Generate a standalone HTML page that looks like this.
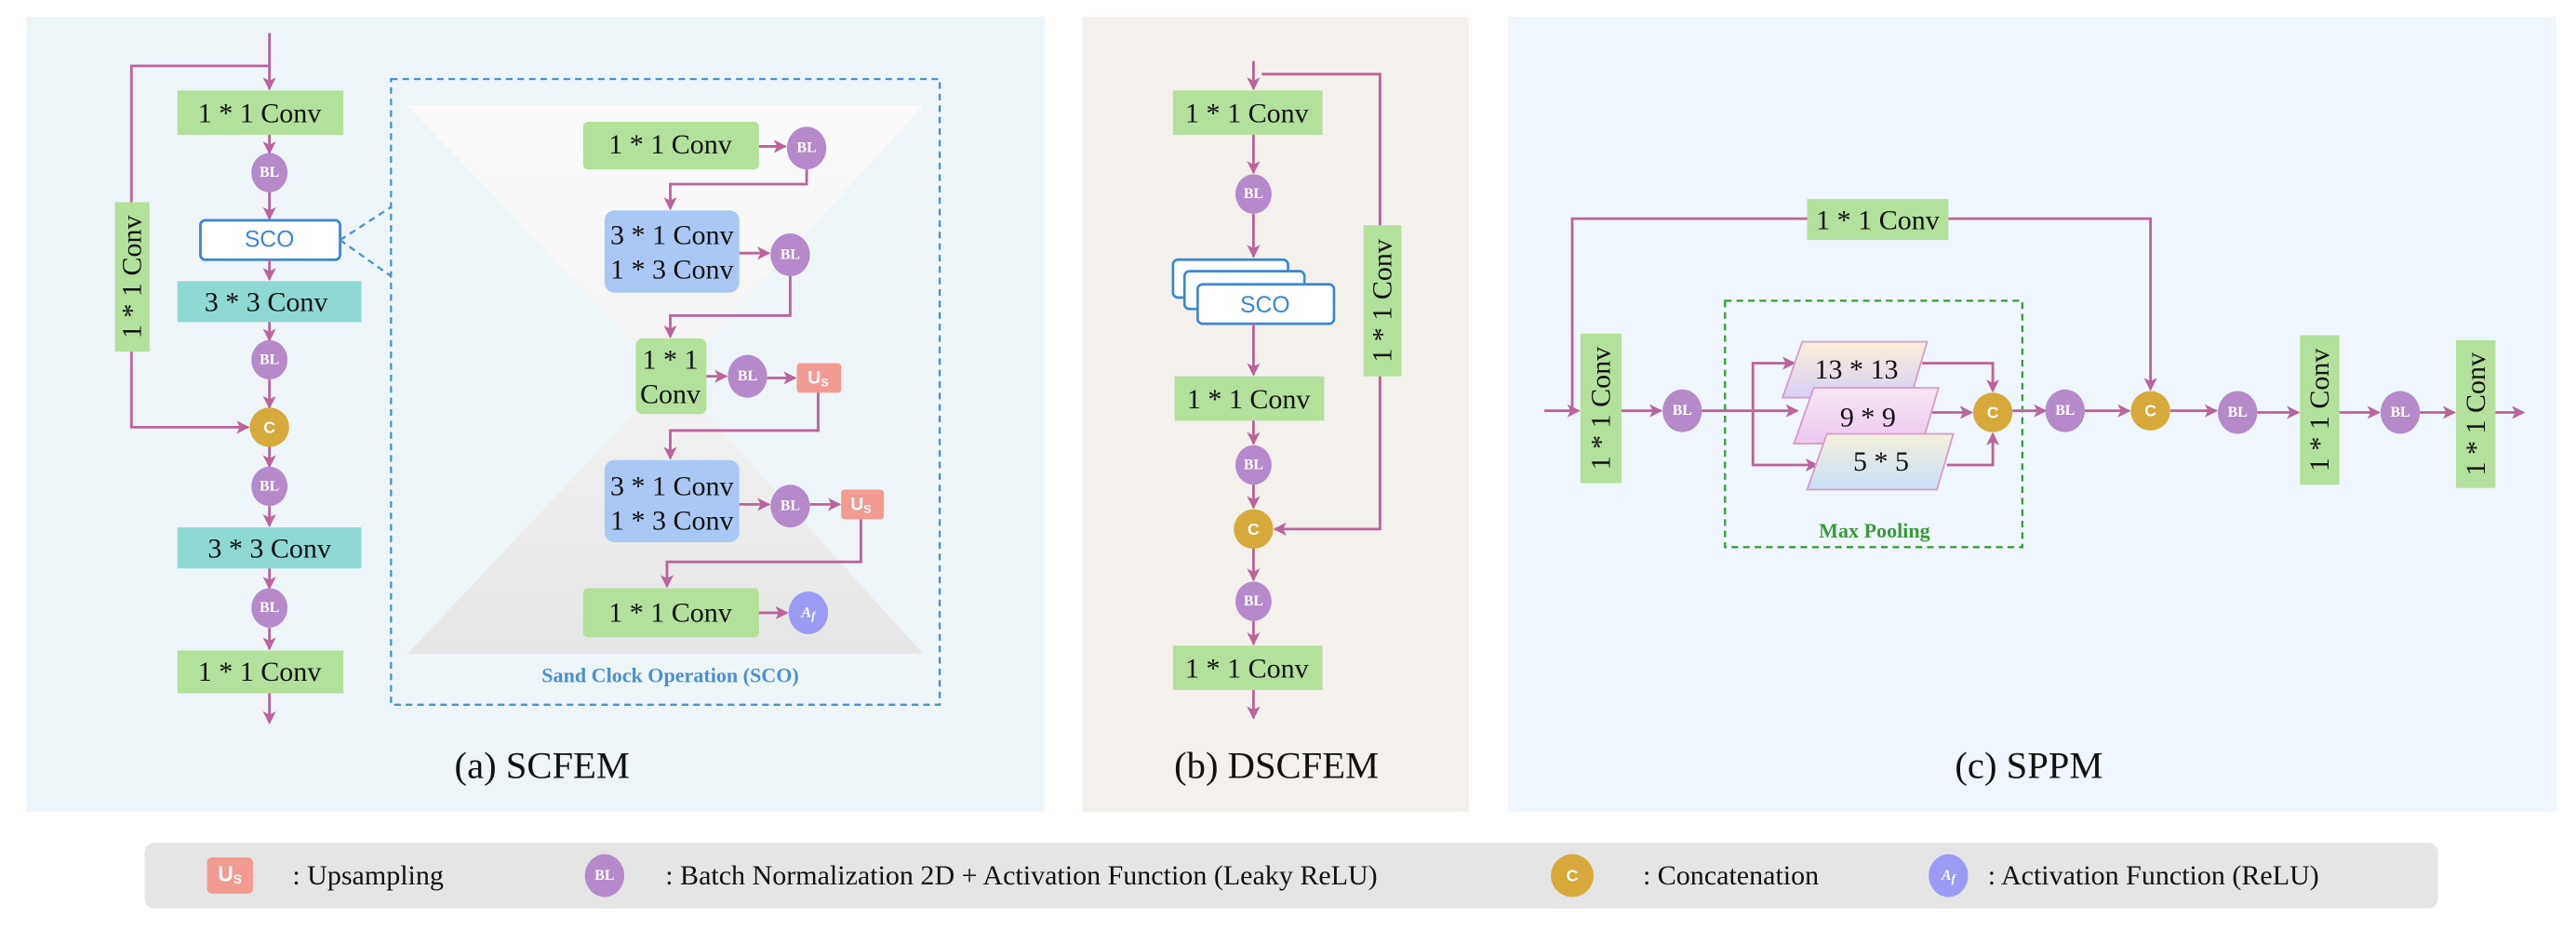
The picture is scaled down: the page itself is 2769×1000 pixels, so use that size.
<!DOCTYPE html>
<html><head><meta charset="utf-8"><style>
html,body{margin:0;padding:0;background:#fff;width:2769px;height:1000px;overflow:hidden}
svg{display:block}
.t{font-family:"Liberation Serif",serif;font-size:17px;fill:#111;text-anchor:middle;dominant-baseline:central}
.c{font-family:"Liberation Sans",sans-serif;font-weight:bold;fill:#fff;text-anchor:middle;dominant-baseline:central}
.bl{font-family:"Liberation Serif",serif;font-weight:bold;font-size:9px;fill:#fff;text-anchor:middle;dominant-baseline:central}
.ln{stroke:#b9649b;stroke-width:1.6;fill:none}
.cap{font-family:"Liberation Serif",serif;font-size:23px;fill:#111;text-anchor:middle;dominant-baseline:central}
.lg{font-family:"Liberation Serif",serif;font-size:17px;fill:#111;dominant-baseline:central}
</style></head><body>
<svg width="2769" height="1000" viewBox="0 0 1568 566" xmlns="http://www.w3.org/2000/svg">
<defs>
<marker id="a" markerWidth="8" markerHeight="8" refX="7" refY="4" orient="auto" markerUnits="userSpaceOnUse"><path d="M0,0 L8,4 L0,8 L2,4 z" fill="#b9649b"/></marker>
<linearGradient id="hg" x1="0" y1="0" x2="0" y2="1"><stop offset="0" stop-color="#fbfbfb"/><stop offset="0.5" stop-color="#f2f2f2"/><stop offset="1" stop-color="#e6e6e6"/></linearGradient>
<linearGradient id="p1" x1="0" y1="0" x2="0" y2="1"><stop offset="0" stop-color="#fbefd9"/><stop offset="1" stop-color="#d8d0f5"/></linearGradient>
<linearGradient id="p2" x1="0" y1="0" x2="0" y2="1"><stop offset="0" stop-color="#f6e7f2"/><stop offset="1" stop-color="#ecc8f2"/></linearGradient>
<linearGradient id="p3" x1="0" y1="0" x2="0" y2="1"><stop offset="0" stop-color="#f5f0dc"/><stop offset="1" stop-color="#c8e0f7"/></linearGradient>
</defs>
<rect x="16" y="10" width="620" height="484" fill="#eef5f9"/>
<rect x="659" y="10" width="235" height="484" fill="#f4f0ec"/>
<rect x="918" y="10" width="638" height="484" fill="#eff6fd"/>
<rect x="88" y="513" width="1396" height="40" rx="6" fill="#e5e5e5"/>

<!-- Panel a -->
<path class="ln" d="M164,20 V54" marker-end="url(#a)"/>
<path class="ln" d="M164,40 H80 V260 H151" marker-end="url(#a)"/>
<rect x="70" y="123" width="21" height="91" fill="#b3e09a"/>
<text class="t" transform="translate(80.5,168.5) rotate(-90)">1 * 1 Conv</text>
<rect x="108" y="55" width="101" height="27" fill="#b3e09a"/><text class="t" x="158" y="69">1 * 1 Conv</text>
<path class="ln" d="M164,82 V93" marker-end="url(#a)"/>
<ellipse cx="164" cy="105" rx="11" ry="12" fill="#b48acb"/><text class="bl" x="164" y="105">BL</text>
<path class="ln" d="M164,117 V133" marker-end="url(#a)"/>
<rect x="122" y="134" width="85" height="24" rx="3" fill="#fff" stroke="#3b86d4" stroke-width="1.6"/>
<text class="c" x="164" y="146" style="fill:#3b86d4;font-weight:normal;font-size:14px">SCO</text>
<path class="ln" d="M164,158 V170" marker-end="url(#a)"/>
<rect x="108" y="171" width="112" height="25" fill="#8fd9d4"/><text class="t" x="162" y="184">3 * 3 Conv</text>
<path class="ln" d="M164,196 V207" marker-end="url(#a)"/>
<ellipse cx="164" cy="219" rx="11" ry="12" fill="#b48acb"/><text class="bl" x="164" y="219">BL</text>
<path class="ln" d="M164,231 V248" marker-end="url(#a)"/>
<circle cx="164" cy="260" r="12" fill="#d6a93a"/><text class="c" x="164" y="260" font-size="10">C</text>
<path class="ln" d="M164,272 V284" marker-end="url(#a)"/>
<ellipse cx="164" cy="296" rx="11" ry="12" fill="#b48acb"/><text class="bl" x="164" y="296">BL</text>
<path class="ln" d="M164,308 V320" marker-end="url(#a)"/>
<rect x="108" y="321" width="112" height="25" fill="#8fd9d4"/><text class="t" x="164" y="334">3 * 3 Conv</text>
<path class="ln" d="M164,346 V358" marker-end="url(#a)"/>
<ellipse cx="164" cy="370" rx="11" ry="12" fill="#b48acb"/><text class="bl" x="164" y="370">BL</text>
<path class="ln" d="M164,382 V395" marker-end="url(#a)"/>
<rect x="108" y="396" width="101" height="26" fill="#b3e09a"/><text class="t" x="158" y="409">1 * 1 Conv</text>
<path class="ln" d="M164,422 V440" marker-end="url(#a)"/>

<path d="M207,146 L238,126 M207,146 L238,168" stroke="#4a90d0" stroke-width="1.3" stroke-dasharray="4,3" fill="none"/>
<rect x="238" y="48" width="334" height="381" fill="none" stroke="#4a90d0" stroke-width="1.3" stroke-dasharray="4,3"/>
<path d="M248,64 H562 L410,230 L562,398 H248 L406,230 Z" fill="url(#hg)"/>
<rect x="355" y="74" width="107" height="29" rx="3" fill="#b3e09a"/><text class="t" x="408" y="88">1 * 1 Conv</text>
<path class="ln" d="M462,89 H478" marker-end="url(#a)"/>
<ellipse cx="491" cy="90" rx="12" ry="13" fill="#b48acb"/><text class="bl" x="491" y="90">BL</text>
<path class="ln" d="M491,103 V112 H408 V127" marker-end="url(#a)"/>
<rect x="368" y="128" width="82" height="50" rx="6" fill="#a9c8f5"/>
<text class="t" x="409" y="143">3 * 1 Conv</text><text class="t" x="409" y="164">1 * 3 Conv</text>
<path class="ln" d="M450,154 H468" marker-end="url(#a)"/>
<ellipse cx="481" cy="155" rx="12" ry="13" fill="#b48acb"/><text class="bl" x="481" y="155">BL</text>
<path class="ln" d="M481,168 V192 H408 V205" marker-end="url(#a)"/>
<rect x="387" y="206" width="43" height="46" rx="4" fill="#b3e09a"/>
<text class="t" x="408" y="219">1 * 1</text><text class="t" x="408" y="240">Conv</text>
<path class="ln" d="M430,229 H442" marker-end="url(#a)"/>
<ellipse cx="455" cy="229" rx="12" ry="13" fill="#b48acb"/><text class="bl" x="455" y="229">BL</text>
<path class="ln" d="M467,230 H484" marker-end="url(#a)"/>
<rect x="485" y="221" width="27" height="18" rx="2" fill="#f29b91"/><text class="c" x="498" y="230" font-size="11">U<tspan font-size="7" dy="3">S</tspan></text>
<path class="ln" d="M498,239 V262 H408 V279" marker-end="url(#a)"/>
<rect x="368" y="280" width="82" height="50" rx="6" fill="#a9c8f5"/>
<text class="t" x="409" y="296">3 * 1 Conv</text><text class="t" x="409" y="317">1 * 3 Conv</text>
<path class="ln" d="M450,307 H468" marker-end="url(#a)"/>
<ellipse cx="481" cy="308" rx="12" ry="13" fill="#b48acb"/><text class="bl" x="481" y="308">BL</text>
<path class="ln" d="M493,307 H511" marker-end="url(#a)"/>
<rect x="512" y="298" width="26" height="18" rx="2" fill="#f29b91"/><text class="c" x="524" y="307" font-size="11">U<tspan font-size="7" dy="3">S</tspan></text>
<path class="ln" d="M524,316 V342 H406 V357" marker-end="url(#a)"/>
<rect x="355" y="358" width="107" height="30" rx="3" fill="#b3e09a"/><text class="t" x="408" y="373">1 * 1 Conv</text>
<path class="ln" d="M462,373 H479" marker-end="url(#a)"/>
<ellipse cx="492" cy="373" rx="12" ry="13" fill="#9b9bf5"/><text class="bl" x="492" y="373" font-style="italic">A<tspan font-size="7" dy="2">f</tspan></text>
<text x="408" y="411" text-anchor="middle" dominant-baseline="central" font-family="Liberation Serif,serif" font-weight="bold" font-size="12.5" fill="#4a90d0">Sand Clock Operation (SCO)</text>
<text class="cap" x="330" y="466">(a) SCFEM</text>

<!-- Panel b -->
<path class="ln" d="M763,37 V54" marker-end="url(#a)"/>
<path class="ln" d="M768,45 H840 V322 H776" marker-end="url(#a)"/>
<rect x="830" y="137" width="23" height="92" fill="#b3e09a"/>
<text class="t" transform="translate(841.5,183) rotate(-90)">1 * 1 Conv</text>
<rect x="714" y="55" width="91" height="27" fill="#b3e09a"/><text class="t" x="759" y="69">1 * 1 Conv</text>
<path class="ln" d="M763,82 V105" marker-end="url(#a)"/>
<ellipse cx="763" cy="118" rx="11" ry="12" fill="#b48acb"/><text class="bl" x="763" y="118">BL</text>
<path class="ln" d="M763,130 V156" marker-end="url(#a)"/>
<rect x="714" y="158" width="70" height="23" rx="3" fill="#fff" stroke="#3b86d4" stroke-width="1.5"/>
<rect x="721" y="165" width="73" height="23" rx="3" fill="#fff" stroke="#3b86d4" stroke-width="1.5"/>
<rect x="729" y="173" width="83" height="24" rx="3" fill="#fff" stroke="#3b86d4" stroke-width="1.5"/>
<text class="c" x="770" y="186" style="fill:#3b86d4;font-weight:normal;font-size:14px">SCO</text>
<path class="ln" d="M763,197 V228" marker-end="url(#a)"/>
<rect x="715" y="229" width="91" height="27" fill="#b3e09a"/><text class="t" x="760" y="243">1 * 1 Conv</text>
<path class="ln" d="M763,256 V270" marker-end="url(#a)"/>
<ellipse cx="763" cy="283" rx="11" ry="12" fill="#b48acb"/><text class="bl" x="763" y="283">BL</text>
<path class="ln" d="M763,295 V309" marker-end="url(#a)"/>
<circle cx="763" cy="322" r="12" fill="#d6a93a"/><text class="c" x="763" y="322" font-size="10">C</text>
<path class="ln" d="M763,334 V353" marker-end="url(#a)"/>
<ellipse cx="763" cy="366" rx="11" ry="12" fill="#b48acb"/><text class="bl" x="763" y="366">BL</text>
<path class="ln" d="M763,378 V392" marker-end="url(#a)"/>
<rect x="714" y="393" width="91" height="27" fill="#b3e09a"/><text class="t" x="759" y="407">1 * 1 Conv</text>
<path class="ln" d="M763,420 V437" marker-end="url(#a)"/>
<text class="cap" x="777" y="466">(b) DSCFEM</text>

<!-- Panel c -->
<path class="ln" d="M940,250 H961" marker-end="url(#a)"/>
<path class="ln" d="M957,250 V133 H1309 V237" marker-end="url(#a)"/>
<rect x="1100" y="121" width="86" height="25" fill="#b3e09a"/><text class="t" x="1143" y="134">1 * 1 Conv</text>
<rect x="962" y="203" width="25" height="91" fill="#b3e09a"/>
<text class="t" transform="translate(974.5,248.5) rotate(-90)">1 * 1 Conv</text>
<path class="ln" d="M987,250 H1011" marker-end="url(#a)"/>
<ellipse cx="1024" cy="250" rx="12" ry="13" fill="#b48acb"/><text class="bl" x="1024" y="250">BL</text>
<rect x="1050" y="183" width="181" height="150" fill="none" stroke="#3a9a3a" stroke-width="1.3" stroke-dasharray="4,3"/>
<path class="ln" d="M1036,250 H1094" marker-end="url(#a)"/>
<path class="ln" d="M1067,250 V221 H1092" marker-end="url(#a)"/>
<path class="ln" d="M1067,250 V283 H1106" marker-end="url(#a)"/>
<polygon points="1097,208 1173,208 1163,242 1085,242" fill="url(#p1)" stroke="#d79ac8" stroke-width="1"/>
<text class="t" x="1130" y="225">13 * 13</text>
<polygon points="1104,236 1180,236 1170,270 1092,270" fill="url(#p2)" stroke="#d79ac8" stroke-width="1"/>
<text class="t" x="1137" y="254">9 * 9</text>
<polygon points="1112,264 1189,264 1179,298 1100,298" fill="url(#p3)" stroke="#d79ac8" stroke-width="1"/>
<text class="t" x="1145" y="281">5 * 5</text>
<path class="ln" d="M1170,221 H1213 V238" marker-end="url(#a)"/>
<path class="ln" d="M1176,251 H1200" marker-end="url(#a)"/>
<path class="ln" d="M1185,283 H1213 V264" marker-end="url(#a)"/>
<circle cx="1213" cy="251" r="12" fill="#d6a93a"/><text class="c" x="1213" y="251" font-size="10">C</text>
<text x="1141" y="323" text-anchor="middle" dominant-baseline="central" font-family="Liberation Serif,serif" font-weight="bold" font-size="12.5" fill="#3a9a3a">Max Pooling</text>
<path class="ln" d="M1225,250 H1245" marker-end="url(#a)"/>
<ellipse cx="1257" cy="250" rx="12" ry="13" fill="#b48acb"/><text class="bl" x="1257" y="250">BL</text>
<path class="ln" d="M1269,250 H1296" marker-end="url(#a)"/>
<circle cx="1309" cy="250" r="12" fill="#d6a93a"/><text class="c" x="1309" y="250" font-size="10">C</text>
<path class="ln" d="M1321,250 H1349" marker-end="url(#a)"/>
<ellipse cx="1362" cy="251" rx="12" ry="13" fill="#b48acb"/><text class="bl" x="1362" y="251">BL</text>
<path class="ln" d="M1374,251 H1399" marker-end="url(#a)"/>
<rect x="1400" y="204" width="24" height="91" fill="#b3e09a"/>
<text class="t" transform="translate(1412,249.5) rotate(-90)">1 * 1 Conv</text>
<path class="ln" d="M1424,251 H1448" marker-end="url(#a)"/>
<ellipse cx="1461" cy="251" rx="12" ry="13" fill="#b48acb"/><text class="bl" x="1461" y="251">BL</text>
<path class="ln" d="M1473,251 H1494" marker-end="url(#a)"/>
<rect x="1495" y="207" width="24" height="90" fill="#b3e09a"/>
<text class="t" transform="translate(1507,252) rotate(-90)">1 * 1 Conv</text>
<path class="ln" d="M1519,251 H1536" marker-end="url(#a)"/>
<text class="cap" x="1235" y="466">(c) SPPM</text>

<!-- Legend -->
<rect x="126" y="522" width="28" height="22" rx="3" fill="#f29b91"/><text class="c" x="140" y="532" font-size="13">U<tspan font-size="8" dy="3">S</tspan></text>
<text class="lg" x="178" y="533">: Upsampling</text>
<ellipse cx="368" cy="533" rx="12" ry="13" fill="#b48acb"/><text class="bl" x="368" y="533">BL</text>
<text class="lg" x="405" y="533">: Batch Normalization 2D + Activation Function (Leaky ReLU)</text>
<circle cx="957" cy="533" r="13" fill="#d6a93a"/><text class="c" x="957" y="533" font-size="10">C</text>
<text class="lg" x="1000" y="533">: Concatenation</text>
<ellipse cx="1186" cy="533" rx="12" ry="13" fill="#9b9bf5"/><text class="bl" x="1186" y="533" font-style="italic">A<tspan font-size="7" dy="2">f</tspan></text>
<text class="lg" x="1210" y="533">: Activation Function (ReLU)</text>
</svg>
</body></html>
